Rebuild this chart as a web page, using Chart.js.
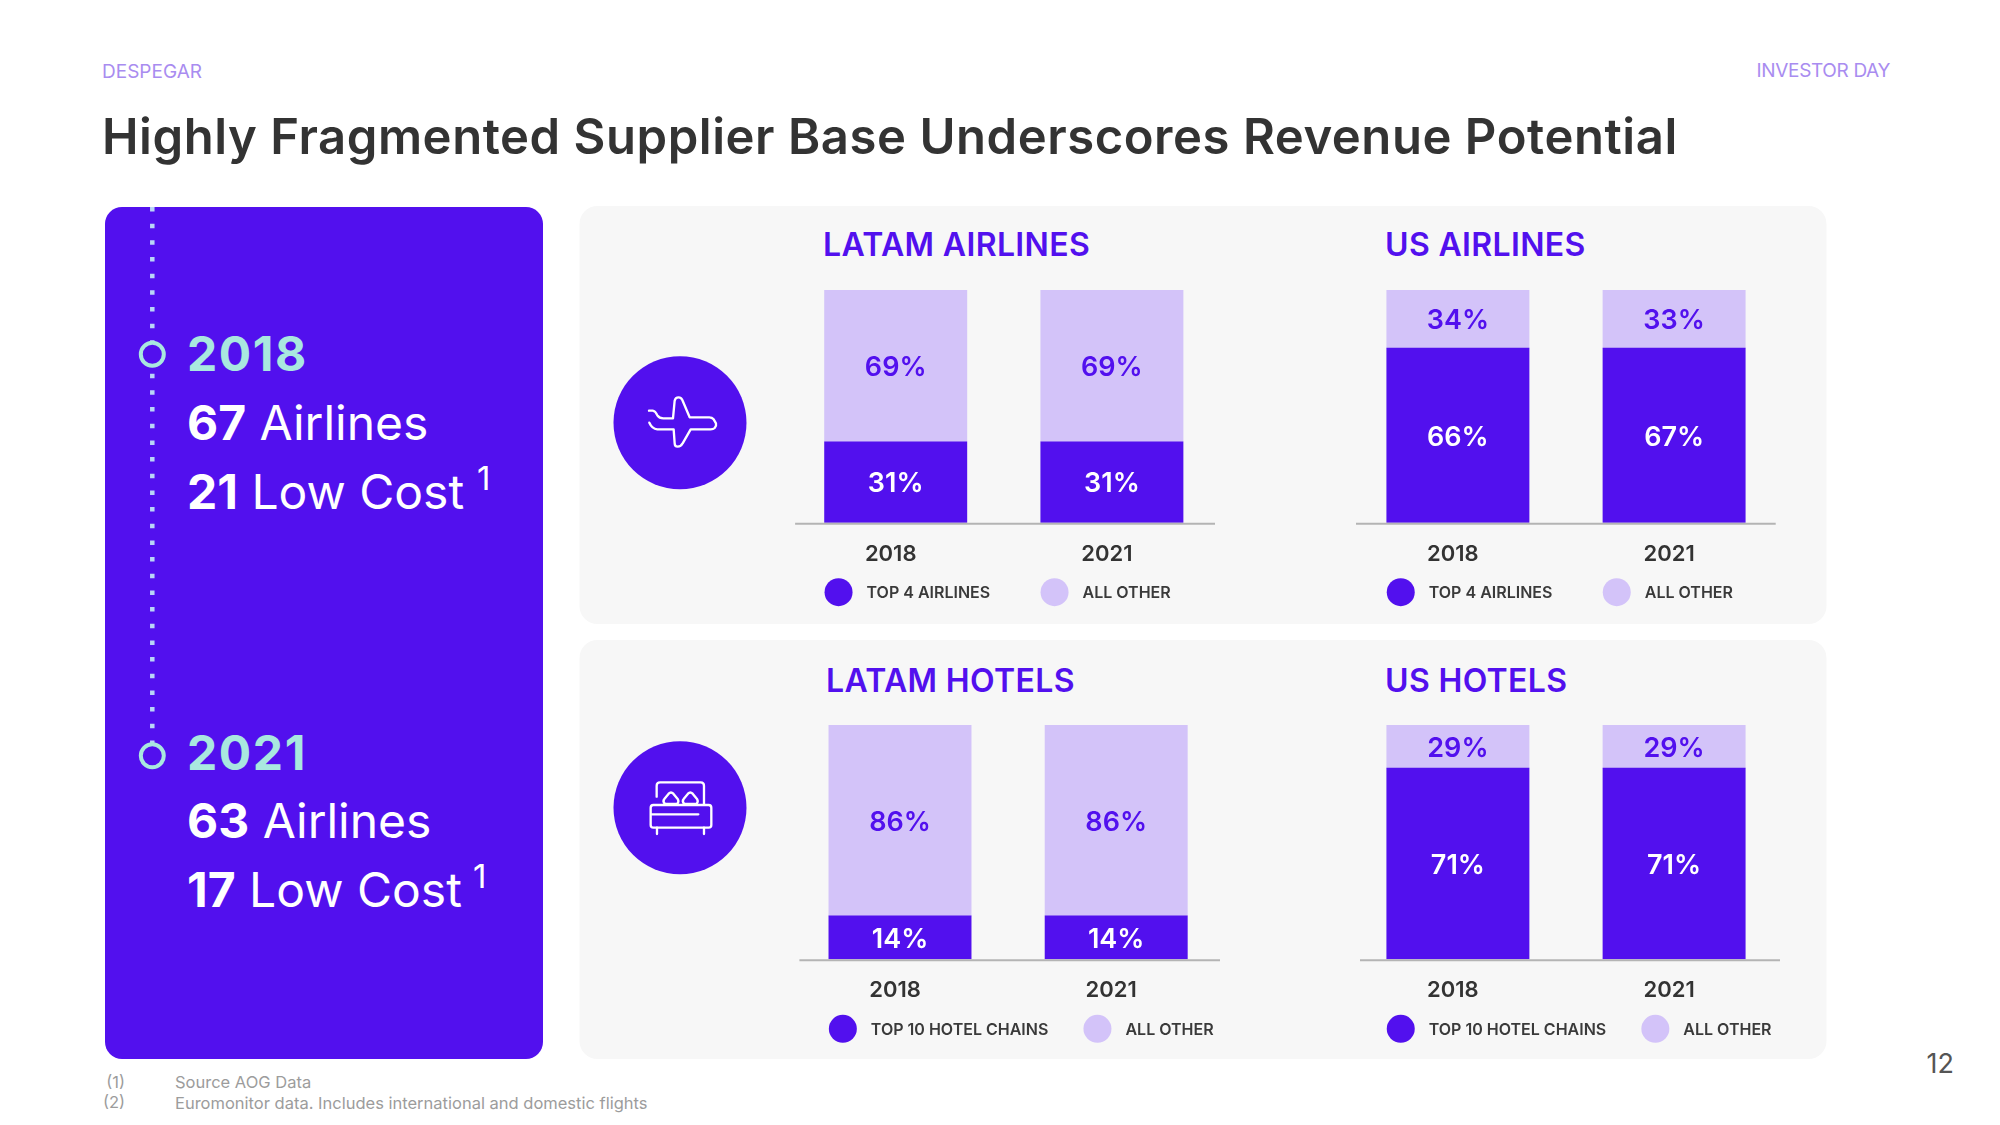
<!DOCTYPE html>
<html>
<head>
<meta charset="utf-8">
<title>Highly Fragmented Supplier Base Underscores Revenue Potential</title>
<script src="https://cdn.jsdelivr.net/npm/chart.js@4/dist/chart.umd.min.js"></script>
<style>
  html, body { margin: 0; padding: 0; background: #fff; }
  #page { position: relative; width: 2000px; height: 1125px; overflow: hidden; font-family: Inter, sans-serif; }
  #page svg { position: absolute; left: 0; top: 0; }
  #page canvas { position: absolute; }
  .head { font-size: 19px; fill: #a98cf0; }
  .panelTitle { font-size: 32px; font-weight: 600; fill: #5210ee; letter-spacing: 0.35px; }
  .year { font-size: 48px; font-weight: 700; fill: #a9e8df; letter-spacing: 1.6px; }
  .big { font-size: 48px; fill: #fff; }
  .sup { font-size: 33px; fill: #fff; }
  .note { font-size: 16.5px; fill: #9c9c9c; }
</style>
</head>
<body>
<div id="page">
  <svg width="2000" height="1125">
    <text class="head" x="102" y="78">DESPEGAR</text>
    <text class="head" x="1890" y="77" text-anchor="end" letter-spacing="-0.35">INVESTOR DAY</text>
    <text x="102" y="154" font-size="49" font-weight="600" fill="#333" letter-spacing="0.55">Highly Fragmented Supplier Base Underscores Revenue Potential</text>

    <!-- left column -->
    <rect x="105" y="207" width="438" height="852" rx="17" fill="#5210ee"/>
    <line x1="152.3" x2="152.3" y1="207" y2="745" stroke="#b9d6f7" stroke-width="4.5" stroke-dasharray="4.5 12.17"/>
    <circle cx="152.3" cy="354.3" r="11.5" fill="#5210ee" stroke="#a9e8df" stroke-width="4"/>
    <circle cx="152.3" cy="755.7" r="11.5" fill="#5210ee" stroke="#a9e8df" stroke-width="4"/>
    <text class="year" x="187" y="371">2018</text>
    <text class="big" x="187" y="440"><tspan font-weight="700">67</tspan> Airlines</text>
    <text class="big" x="187" y="509"><tspan font-weight="700">21</tspan> Low Cost</text>
    <text class="sup" x="477" y="490">1</text>
    <text class="year" x="187" y="770">2021</text>
    <text class="big" x="187" y="838"><tspan font-weight="700">63</tspan> Airlines</text>
    <text class="big" x="187" y="907"><tspan font-weight="700">17</tspan> Low Cost</text>
    <text class="sup" x="473" y="888">1</text>

    <!-- grey panels -->
    <rect x="579.5" y="206" width="1247" height="418" rx="18" fill="#f7f7f7"/>
    <rect x="579.5" y="640" width="1247" height="419" rx="18" fill="#f7f7f7"/>

    <!-- plane icon -->
    <circle cx="680" cy="422.7" r="66.5" fill="#5210ee"/>
    <g transform="translate(600 340) scale(0.3333)" fill="none" stroke="#fff" stroke-width="7" stroke-linecap="round" stroke-linejoin="round">
      <path d="M147 212 H158 Q166 213 172 226 Q178 235 190 235 H219 L224 182 Q226 172 236 172 Q243 172 247 180 L269 232 H328 Q336 232 341 238 L348 250 Q350 257 344 264 Q340 268 332 268 H272 L248 310 Q243 320 233 320 Q224 320 224 310 L221 268 H172 Q156 266 148 248"/>
    </g>

    <!-- bed icon -->
    <circle cx="680" cy="807.7" r="66.5" fill="#5210ee"/>
    <g transform="translate(600 725) scale(0.3333)" fill="none" stroke="#fff" stroke-width="7" stroke-linecap="round" stroke-linejoin="round">
      <path d="M170 215 V182 Q170 172 180 172 H302 Q312 172 312 182 V238"/>
      <path d="M195 237 Q187 229 193 222 L206 206 Q213 199 220 206 L233 222 Q238 230 232 237 Z"/>
      <path d="M253 237 Q245 229 251 222 L264 206 Q271 199 278 206 L291 222 Q296 230 290 237 Z"/>
      <rect x="152" y="240" width="182" height="68" rx="8"/>
      <path d="M155 268 H295"/>
      <path d="M171 308 V327 M312 308 V327"/>
    </g>

    <text class="panelTitle" x="823" y="256">LATAM AIRLINES</text>
    <text class="panelTitle" x="1385" y="256">US AIRLINES</text>
    <text class="panelTitle" x="826" y="692">LATAM HOTELS</text>
    <text class="panelTitle" x="1385" y="692">US HOTELS</text>

    <text class="note" x="125" y="1088" text-anchor="end">(1)</text>
    <text class="note" x="125" y="1108" text-anchor="end">(2)</text>
    <text class="note" x="175" y="1088">Source AOG Data</text>
    <text class="note" x="175" y="1109">Euromonitor data. Includes international and domestic flights</text>
    <text x="1954" y="1073" font-size="27" fill="#555" text-anchor="end">12</text>
  </svg>

  <canvas id="latamAirlines" width="480" height="340" style="left:770px;top:280px"></canvas>
  <canvas id="usAirlines" width="480" height="340" style="left:1335px;top:280px"></canvas>
  <canvas id="latamHotels" width="480" height="340" style="left:770px;top:715px"></canvas>
  <canvas id="usHotels" width="480" height="340" style="left:1335px;top:715px"></canvas>
</div>

<script>
const years = ['2018', '2021'];

// Bar heights. The source slide does not draw its
// bars to scale, so the printed percentages are kept in their own arrays.
const latamAirlinesTop = [34.8, 34.8];
const latamAirlinesOther = [65.2, 65.2];
const latamAirlinesTopText = ['31%', '31%'];
const latamAirlinesOtherText = ['69%', '69%'];

const usAirlinesTop = [75, 75];
const usAirlinesOther = [25, 25];
const usAirlinesTopText = ['66%', '67%'];
const usAirlinesOtherText = ['34%', '33%'];

const latamHotelsTop = [18.5, 18.5];
const latamHotelsOther = [81.5, 81.5];
const latamHotelsTopText = ['14%', '14%'];
const latamHotelsOtherText = ['86%', '86%'];

const usHotelsTop = [81.6, 81.6];
const usHotelsOther = [18.4, 18.4];
const usHotelsTopText = ['71%', '71%'];
const usHotelsOtherText = ['29%', '29%'];

const airlineSeries = ['TOP 4 AIRLINES', 'ALL OTHER'];
const hotelSeries = ['TOP 10 HOTEL CHAINS', 'ALL OTHER'];

const purple = '#5210ee';
const lilac = '#d3c3f9';
const fontName = 'Inter, sans-serif';

// Percent text in the middle of each bar segment
const valueText = {
    id: 'valueText',
    afterDatasetsDraw(chart) {
        const ctx = chart.ctx;
        ctx.save();
        ctx.font = '600 27px ' + fontName;
        ctx.textAlign = 'center';
        ctx.textBaseline = 'middle';
        chart.data.datasets.forEach((ds, i) => {
            ctx.fillStyle = ds.textColor;
            chart.getDatasetMeta(i).data.forEach((bar, j) => {
                ctx.fillText(ds.printed[j], bar.x, (bar.y + bar.base) / 2 + 2);
            });
        });
        ctx.restore();
    }
};

// Base line does not run the full width of the plot area
const baseLine = {
    id: 'baseLine',
    afterDatasetsDraw(chart, args, opts) {
        const area = chart.chartArea;
        const ctx = chart.ctx;
        ctx.save();
        ctx.strokeStyle = '#b4b4b4';
        ctx.lineWidth = 2;
        ctx.beginPath();
        ctx.moveTo(area.left + opts.insetLeft, area.bottom + 1);
        ctx.lineTo(area.right - opts.insetRight, area.bottom + 1);
        ctx.stroke();
        ctx.restore();
    }
};

// Legend row: first dot starts at the left edge of the first bar
const dotLegend = {
    id: 'dotLegend',
    afterDraw(chart, args, opts) {
        const ctx = chart.ctx;
        const first = chart.getDatasetMeta(0).data[0];
        const startX = first.x - first.width / 2 + 14;
        const y = chart.chartArea.bottom + 69.5;
        ctx.save();
        ctx.font = '600 16px ' + fontName;
        ctx.textBaseline = 'middle';
        chart.data.datasets.forEach((ds, i) => {
            const x = startX + i * opts.gap;
            ctx.fillStyle = ds.backgroundColor;
            ctx.beginPath();
            ctx.arc(x, y, 14, 0, Math.PI * 2);
            ctx.fill();
            ctx.fillStyle = '#3a3a3a';
            ctx.fillText(ds.label, x + 28, y + 1);
        });
        ctx.restore();
    }
};

function makeChart(id, padLeft, barBottom, legendGap, lineInset, seriesNames, topVals, otherVals, topText, otherText) {
    new Chart(document.getElementById(id), {
        type: 'bar',
        data: {
            labels: years,
            datasets: [
                { label: seriesNames[0], data: topVals, printed: topText, backgroundColor: purple, textColor: '#ffffff' },
                { label: seriesNames[1], data: otherVals, printed: otherText, backgroundColor: lilac, textColor: purple }
            ]
        },
        options: {
            responsive: false,
            animation: false,
            barThickness: 142.3,
            layout: { padding: { left: padLeft, right: 480 - padLeft - 432.4, top: 10, bottom: 0 } },
            plugins: {
                legend: { display: false },
                tooltip: { enabled: false },
                dotLegend: { gap: legendGap },
                baseLine: { insetLeft: lineInset[0], insetRight: lineInset[1] }
            },
            scales: {
                x: {
                    stacked: true,
                    grid: { display: false },
                    border: { display: false },
                    afterFit(scale) { scale.height = 340 - barBottom; },
                    ticks: {
                        color: '#333',
                        padding: 10,
                        labelOffset: -5,
                        maxRotation: 0,
                        font: { family: fontName, size: 22, weight: '600' }
                    }
                },
                y: { stacked: true, display: false, min: 0, max: 100 }
            }
        },
        plugins: [baseLine, valueText, dotLegend]
    });
}

makeChart('latamAirlines', 17.6, 242.7, 216, [7.5, 5], airlineSeries, latamAirlinesTop, latamAirlinesOther, latamAirlinesTopText, latamAirlinesOtherText);
makeChart('usAirlines', 14.8, 242.7, 216, [6.2, 6.5], airlineSeries, usAirlinesTop, usAirlinesOther, usAirlinesTopText, usAirlinesOtherText);
makeChart('latamHotels', 21.9, 244.3, 254.6, [7.5, 4.3], hotelSeries, latamHotelsTop, latamHotelsOther, latamHotelsTopText, latamHotelsOtherText);
makeChart('usHotels', 14.8, 244.3, 254.6, [10.2, 2.2], hotelSeries, usHotelsTop, usHotelsOther, usHotelsTopText, usHotelsOtherText);
</script>
</body>
</html>
